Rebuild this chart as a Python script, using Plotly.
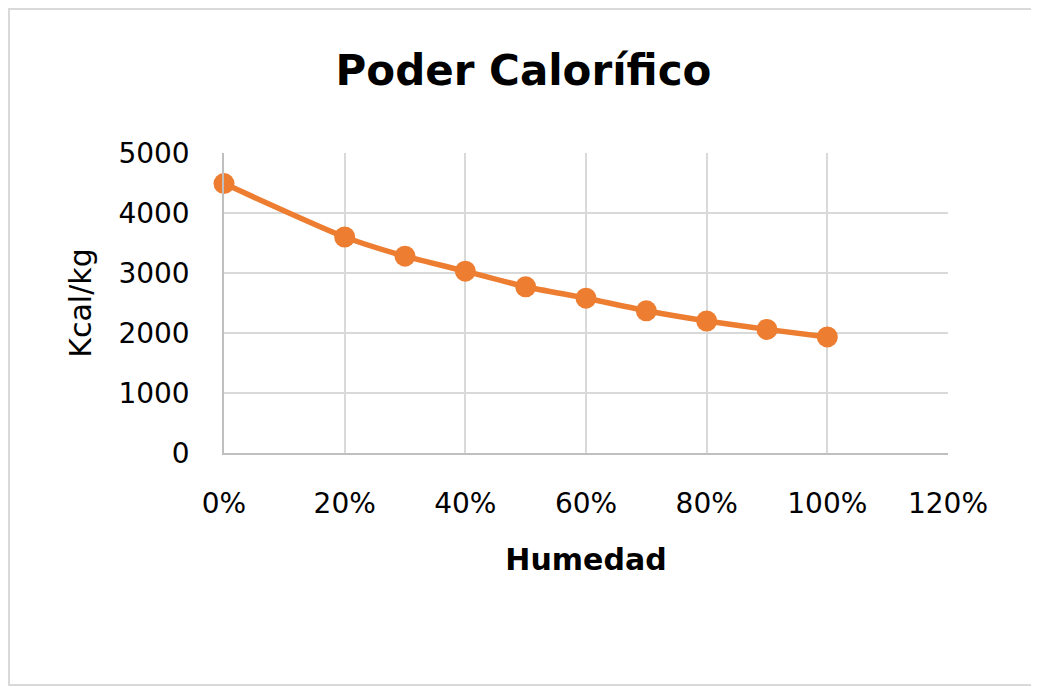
import plotly.graph_objects as go

# humedad (fraccion) y poder calorifico (Kcal/kg)
humedad = [0.0, 0.2, 0.3, 0.4, 0.5, 0.6, 0.7, 0.8, 0.9, 1.0]
poder_calorifico = [4490, 3600, 3280, 3030, 2770, 2580, 2370, 2200, 2060, 1935]

FONT = "DejaVu Sans"
ORANGE = "#ED7D31"
GRID = "#d9d9d9"

fig = go.Figure()
fig.add_trace(go.Scatter(
    x=humedad, y=poder_calorifico,
    mode="lines+markers",
    line=dict(color=ORANGE, width=5.5, shape="spline", smoothing=0.6),
    marker=dict(color=ORANGE, size=21),
    showlegend=False,
    cliponaxis=False,
))

# the page adds an 8px body margin, so the figure is a bit smaller
W, H = 1031, 679
ml, mr, mt, mb = 216, 91, 145, 234
pw, ph = W - ml - mr, H - mt - mb

fig.update_layout(
    width=W, height=H,
    margin=dict(l=ml, r=mr, t=mt, b=mb),
    paper_bgcolor="white", plot_bgcolor="white",
    font=dict(family=FONT, color="#000000", size=28),
    title=dict(text="<b>Poder Calorífico</b>", x=0.5, xanchor="center",
               y=1 - 62 / H, yanchor="middle",
               font=dict(family=FONT, size=42, color="#000000")),
    shapes=[dict(type="rect", xref="paper", yref="paper",
                 x0=-(ml - 1) / pw, x1=1 + (mr - 3) / pw,
                 y0=-(mb - 2) / ph, y1=1 + (mt - 1) / ph,
                 line=dict(color="#d9d9d9", width=2))],
)

fig.update_xaxes(
    range=[0, 1.2], dtick=0.2, tick0=0, tickformat=".0%",
    showgrid=True, gridcolor=GRID, gridwidth=1.5,
    showline=True, linecolor="#bfbfbf", linewidth=1.5,
    zeroline=False, ticks="", ticklabelstandoff=25,
    tickfont=dict(family=FONT, size=28),
    title=dict(text="<b>Humedad</b>", standoff=30,
               font=dict(family=FONT, size=30)),
)
fig.update_yaxes(
    range=[0, 5000], dtick=1000,
    showgrid=True, gridcolor=GRID, gridwidth=1.5,
    showline=True, linecolor="#bfbfbf", linewidth=1.5,
    zeroline=False, ticks="", ticklabelstandoff=27,
    tickfont=dict(family=FONT, size=28),
    title=dict(text="Kcal/kg", standoff=18,
               font=dict(family=FONT, size=30)),
)

fig.write_html("out.html")
